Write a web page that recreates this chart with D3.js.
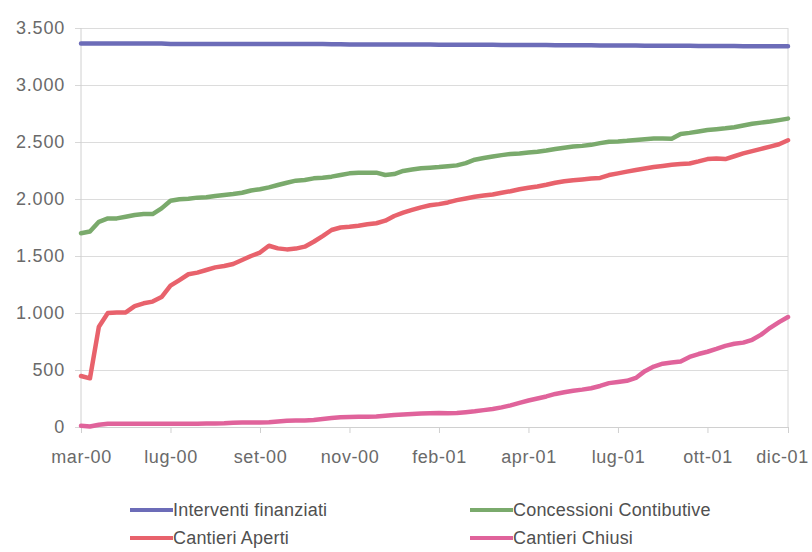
<!DOCTYPE html>
<html>
<head>
<meta charset="utf-8">
<script src="https://cdn.jsdelivr.net/npm/d3@7"></script>
<style>
  body { margin: 0; background: #fff; }
  text { font-family: "Liberation Sans", Arial, sans-serif; }
</style>
</head>
<body>
<div id="chart"></div>
<script>
// global constants
const WIDTH = 812;
const HEIGHT = 552;
const PLOT = { left: 81, right: 788, top: 28, bottom: 427 };

// x axis: observation index with a label every tenth point
const TICK_INDEX = [0, 10, 20, 30, 40, 50, 60, 70, 79];
const TICK_LABELS = ["mar-00", "lug-00", "set-00", "nov-00", "feb-01", "apr-01", "lug-01", "ott-01", "dic-01"];
const Y_TICKS = [0, 500, 1000, 1500, 2000, 2500, 3000, 3500];

const SERIES_NAMES = ["Interventi finanziati", "Concessioni Contibutive", "Cantieri Aperti", "Cantieri Chiusi"];
const SERIES_COLORS = ["#6c6cb8", "#7aaa6c", "#e8626c", "#e0639b"];

const interventi = [
  3365, 3365, 3365, 3365, 3365, 3365, 3365, 3365, 3365, 3365,
  3360, 3360, 3360, 3360, 3360, 3360, 3360, 3360, 3360, 3360,
  3360, 3360, 3360, 3360, 3360, 3360, 3360, 3360, 3358, 3358,
  3356, 3356, 3356, 3356, 3356, 3355, 3355, 3355, 3355, 3355,
  3354, 3354, 3353, 3353, 3352, 3352, 3352, 3351, 3351, 3351,
  3350, 3350, 3350, 3349, 3349, 3348, 3348, 3348, 3347, 3347,
  3346, 3346, 3346, 3345, 3345, 3345, 3344, 3344, 3344, 3343,
  3343, 3342, 3342, 3342, 3341, 3341, 3340, 3340, 3340, 3340
];
const concessioni = [
  1700, 1715, 1800, 1830, 1830, 1845, 1860, 1868, 1868, 1918,
  1985, 1997, 2003, 2012, 2015, 2026, 2035, 2044, 2055, 2075,
  2085, 2102, 2123, 2143, 2161, 2167, 2181, 2187, 2196, 2211,
  2225, 2231, 2231, 2231, 2211, 2219, 2246, 2258, 2270, 2275,
  2280, 2288, 2295, 2315, 2345, 2360, 2372, 2385, 2395, 2400,
  2408, 2415, 2425, 2438, 2450, 2460, 2466, 2475, 2490, 2503,
  2505, 2510, 2518, 2525, 2530, 2530, 2528, 2570, 2580, 2592,
  2605, 2612, 2620, 2630, 2645, 2660, 2670, 2680, 2692, 2705
];
const aperti = [
  447, 427, 880, 1000, 1005, 1005, 1060, 1085, 1100, 1140,
  1240, 1289, 1340, 1354, 1377, 1400, 1412, 1430, 1465, 1500,
  1530, 1590, 1567, 1558, 1565, 1582, 1625, 1675, 1728, 1750,
  1757, 1766, 1778, 1787, 1810, 1851, 1880, 1904, 1927, 1945,
  1955, 1970, 1990, 2005, 2020, 2030, 2040, 2055, 2068, 2085,
  2098, 2110, 2125, 2142, 2155, 2165, 2172, 2180, 2185, 2210,
  2225, 2240, 2255, 2268, 2280, 2290, 2300, 2308, 2312, 2330,
  2350, 2355, 2350, 2375, 2400, 2420, 2440, 2460, 2480, 2515
];
const chiusi = [
  10, 5, 20, 28, 28, 28, 28, 28, 28, 28,
  28, 28, 28, 28, 30, 30, 32, 38, 40, 40,
  40, 42, 48, 55, 57, 58, 62, 70, 78, 85,
  88, 90, 90, 92, 98, 105, 110, 114, 118, 120,
  122, 120, 122, 130, 138, 148, 158, 172, 190, 212,
  232, 250, 268, 290, 305, 318, 328, 340, 360, 385,
  395, 405, 430, 490, 530, 555, 565, 575, 615, 640,
  660, 685, 712, 730, 740, 765, 810, 870, 920, 965
];

const SERIES = [interventi, concessioni, aperti, chiusi];

const itFormat = d3.formatLocale({ decimal: ",", thousands: ".", grouping: [3], currency: ["", ""] }).format(",");

function render() {
  const svg = d3.select("#chart")
    .append("svg")
    .attr("width", WIDTH)
    .attr("height", HEIGHT);

  const x = d3.scaleLinear()
    .domain([0, interventi.length - 1])
    .range([PLOT.left, PLOT.right]);
  const y = d3.scaleLinear()
    .domain([0, 3500])
    .range([PLOT.bottom, PLOT.top]);

  // gridlines + y labels
  const yAxis = svg.append("g")
    .attr("transform", `translate(${PLOT.left},0)`)
    .call(d3.axisLeft(y)
      .tickValues(Y_TICKS)
      .tickSize(6)
      .tickPadding(10)
      .tickFormat(itFormat));
  yAxis.select(".domain").remove();
  yAxis.selectAll(".tick line").attr("stroke", "#d8d8d8");
  yAxis.selectAll(".tick")
    .append("line")
    .attr("x1", 0)
    .attr("x2", PLOT.right - PLOT.left)
    .attr("stroke", "#dcdcdc");
  yAxis.selectAll("text")
    .attr("fill", "#6a6a6a")
    .attr("font-size", "18px")
    .attr("letter-spacing", "0.8px");

  // plot frame sides
  svg.append("line")
    .attr("x1", PLOT.left).attr("x2", PLOT.left)
    .attr("y1", PLOT.top).attr("y2", PLOT.bottom)
    .attr("stroke", "#d0d0d0");
  svg.append("line")
    .attr("x1", PLOT.right).attr("x2", PLOT.right)
    .attr("y1", PLOT.top).attr("y2", PLOT.bottom)
    .attr("stroke", "#d8d8d8");

  // x axis
  const xAxis = svg.append("g")
    .attr("transform", `translate(0,${PLOT.bottom})`)
    .call(d3.axisBottom(x)
      .tickValues(TICK_INDEX)
      .tickSize(6)
      .tickPadding(17)
      .tickFormat((d, i) => TICK_LABELS[i]));
  xAxis.select(".domain").attr("stroke", "#d0d0d0");
  xAxis.selectAll(".tick line").attr("stroke", "#d0d0d0");
  xAxis.selectAll("text")
    .attr("fill", "#6a6a6a")
    .attr("font-size", "18px")
    .attr("letter-spacing", "0.6px");
  // last label pulled inside the frame
  xAxis.selectAll(".tick text")
    .filter((d, i) => i === TICK_INDEX.length - 1)
    .attr("dx", -6);

  // lines
  const line = d3.line()
    .x((d, i) => x(i))
    .y((d) => y(d))
    .curve(d3.curveLinear);

  svg.append("g")
    .selectAll("path")
    .data(SERIES)
    .join("path")
    .attr("fill", "none")
    .attr("stroke", (d, i) => SERIES_COLORS[i])
    .attr("stroke-width", 4.5)
    .attr("stroke-linejoin", "round")
    .attr("stroke-linecap", "round")
    .attr("d", line);

  // legend
  const legend = svg.append("g")
    .selectAll("g")
    .data(SERIES_NAMES)
    .join("g")
    .attr("transform", (d, i) => `translate(${i % 2 === 0 ? 130 : 470},${i < 2 ? 510 : 538})`);
  legend.append("line")
    .attr("x1", 0).attr("x2", 43)
    .attr("stroke", (d, i) => SERIES_COLORS[i])
    .attr("stroke-width", 4);
  legend.append("text")
    .text((d) => d)
    .attr("x", 43)
    .attr("dy", "0.35em")
    .attr("fill", "#505050")
    .attr("font-size", "18px")
    .attr("letter-spacing", "0.2px");
}

render();
</script>
</body>
</html>
